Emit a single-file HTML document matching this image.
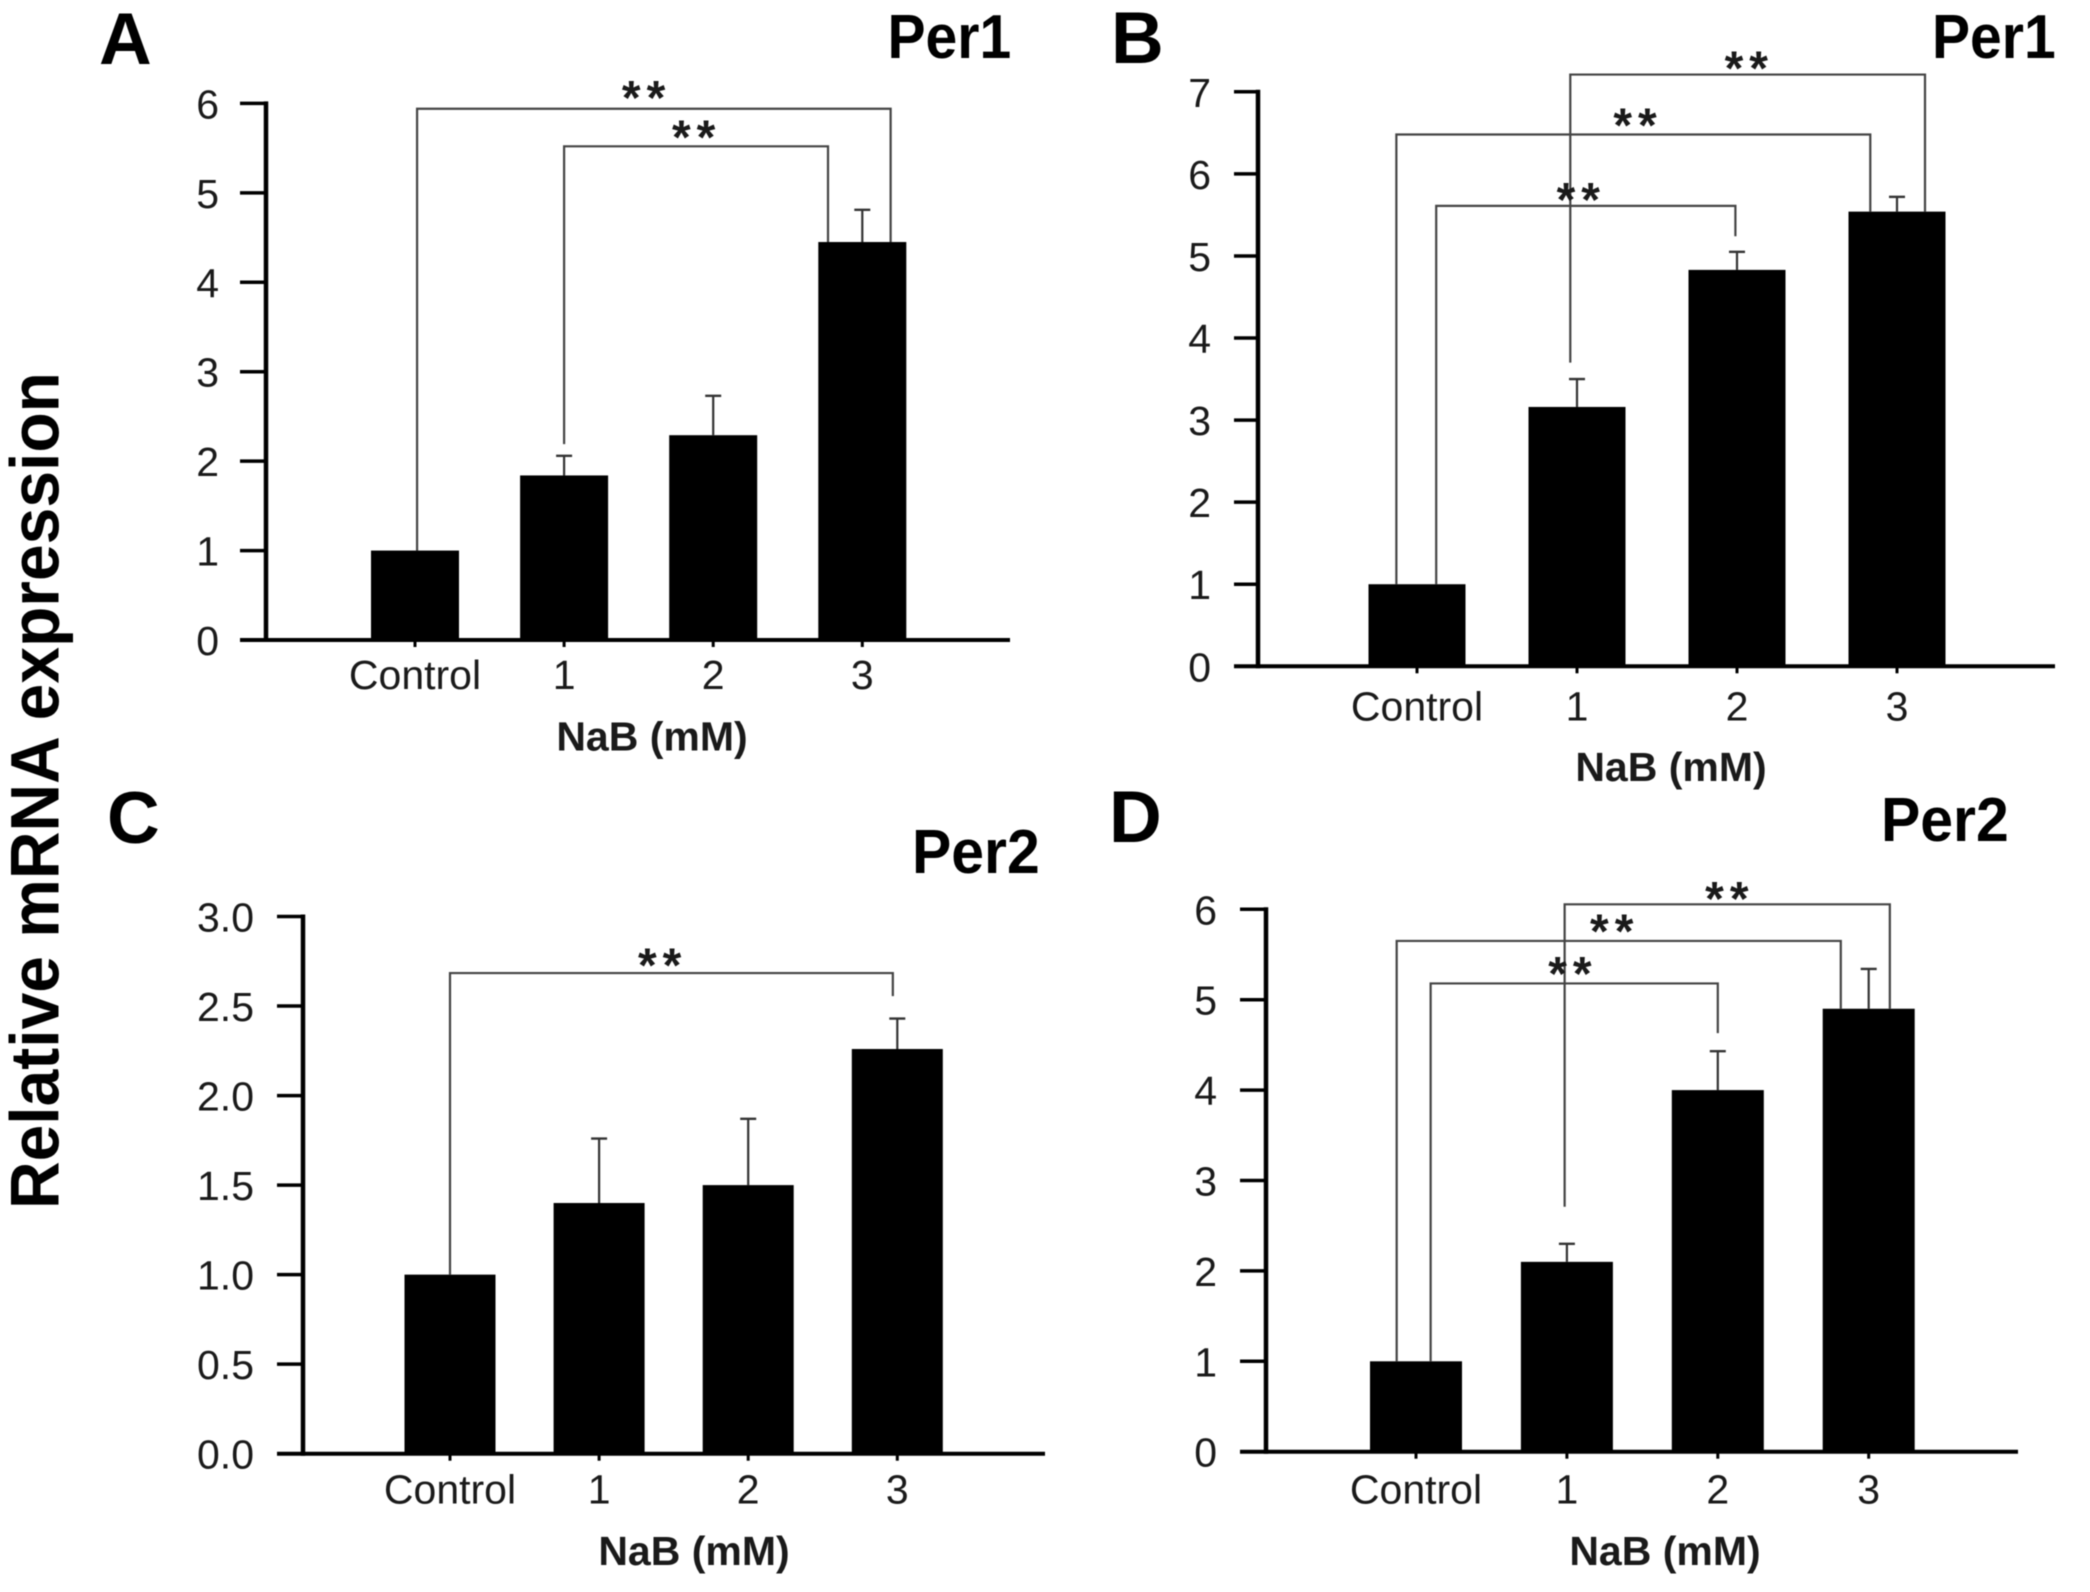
<!DOCTYPE html>
<html lang="en">
<head>
<meta charset="utf-8">
<title>Relative mRNA expression of Per1 and Per2 after NaB treatment</title>
<style>
html,body{margin:0;padding:0;background:#fff;overflow:hidden;}
svg{display:block;filter:blur(0.5px);}
text{font-family:"Liberation Sans",Arial,sans-serif;fill:#1a1a1a;}
</style>
</head>
<body>
<svg id="figure" width="2090" height="1592" viewBox="0 0 2090 1592" xmlns="http://www.w3.org/2000/svg">
<rect width="2090" height="1592" fill="#fff"></rect>
<text transform="translate(58.5,1209) rotate(-90) scale(0.956,1)" font-size="69" font-weight="700" style="fill:#000">Relative mRNA expression</text>
</svg>
<script>
// Shared
const categories = ['Control', '1', '2', '3'];

// Panel A
const aValues = [1.0, 1.84, 2.29, 4.45];
const aErrors = [0, 0.22, 0.44, 0.36];
const aTicks = ['0', '1', '2', '3', '4', '5', '6'];
const aBracketLeft = [0.014, 1.0];
const aBracketRight = [3.19, 2.77];
const aBracketTop = [5.94, 5.52];
const aBracketLeftEnd = [1.0, 2.19];
const aBracketRightEnd = [4.45, 4.45];
const aStarCat = [1.533, 1.869];
const aStarValue = [6.13, 5.686];

// Panel B
const bValues = [1.0, 3.16, 4.83, 5.54];
const bErrors = [0, 0.34, 0.22, 0.18];
const bTicks = ['0', '1', '2', '3', '4', '5', '6', '7'];
const bBracketLeft = [0.958, -0.129, 0.12];
const bBracketRight = [3.175, 2.833, 1.99];
const bBracketTop = [7.21, 6.48, 5.61];
const bBracketLeftEnd = [3.7, 1.0, 1.0];
const bBracketRightEnd = [5.54, 5.54, 5.24];
const bStarCat = [2.058, 1.3625, 1.008];
const bStarValue = [7.36, 6.66, 5.756];

// Panel C
const cValues = [1.0, 1.4, 1.5, 2.26];
const cErrors = [0, 0.36, 0.37, 0.17];
const cTicks = ['0.0', '0.5', '1.0', '1.5', '2.0', '2.5', '3.0'];
const cBracketLeft = [0];
const cBracketRight = [2.97];
const cBracketTop = [2.684];
const cBracketLeftEnd = [1.0];
const cBracketRightEnd = [2.555];
const cStarCat = [1.406];
const cStarValue = [2.76];

// Panel D
const dValues = [1.0, 2.1, 4.0, 4.9];
const dErrors = [0, 0.2, 0.43, 0.44];
const dTicks = ['0', '1', '2', '3', '4', '5', '6'];
const dBracketLeft = [0.985, -0.128, 0.097];
const dBracketRight = [3.14, 2.815, 2.0];
const dBracketTop = [6.055, 5.65, 5.18];
const dBracketLeftEnd = [2.71, 1.0, 1.0];
const dBracketRightEnd = [4.9, 4.9, 4.63];
const dStarCat = [2.06, 1.297, 1.02];
const dStarValue = [6.18, 5.82, 5.35];

const NS = 'http://www.w3.org/2000/svg';
const root = document.getElementById('figure');

function make(tag, parent, attrs) {
  const el = document.createElementNS(NS, tag);
  for (const k in attrs) el.setAttribute(k, attrs[k]);
  parent.appendChild(el);
  return el;
}

function drawPanel(p) {
  const group = make('g', root, {});
  
  

  const maxTick = p.tickMax;
  const y = v => p.y0 + (p.yTop - p.y0) * v / maxTick;
  const x = c => p.x0 + p.step * c;

  // Bars
  p.values.forEach((v, i) => {
    const bar = make('rect', group, {x: x(i) - p.barW / 2, y: y(v), width: p.barW, height: y(0) - y(v), fill: '#000'});
    
    
  });

  // Error bars
  p.errors.forEach((e, i) => {
    if (!e) return;
    const v = p.values[i];
    const top = y(v + e);
    const stem = make('line', group, {x1: x(i), x2: x(i), y1: y(v), y2: top, stroke: '#333', 'stroke-width': 2.2});
    
    
    const cap = make('line', group, {x1: x(i) - 8, x2: x(i) + 8, y1: top, y2: top, stroke: '#333', 'stroke-width': 2.4});
    
    
  });

  // Axes
  const yAxis = make('line', group, {x1: p.axisX, x2: p.axisX, y1: y(maxTick) - 2, y2: y(0) + 2, stroke: '#000', 'stroke-width': 4.5});
  
  
  const xAxis = make('line', group, {x1: p.tickLeft, x2: p.axisEnd, y1: y(0), y2: y(0), stroke: '#000', 'stroke-width': 4});
  
  

  // Y ticks
  p.ticks.forEach(t => {
    const ty = y(parseFloat(t));
    const tick = make('line', group, {x1: p.tickLeft, x2: p.axisX, y1: ty, y2: ty, stroke: '#000', 'stroke-width': 3.5});
    
    
    const lab = make('text', group, {x: p.labelRight, y: ty + 15, 'font-size': 41, 'text-anchor': 'end'});
    lab.textContent = t;
    
    
  });

  // X ticks and labels
  categories.forEach((c, i) => {
    const tick = make('line', group, {x1: x(i), x2: x(i), y1: y(0), y2: y(0) + 7, stroke: '#000', 'stroke-width': 3});
    
    
    const lab = make('text', group, {x: x(i), y: y(0) + p.catDrop, 'font-size': 41, 'text-anchor': 'middle'});
    lab.textContent = c;
    
    
  });

  // Significance brackets
  p.bracketLeft.forEach((b, i) => {
    const pts = [
      [x(b), y(p.bracketLeftEnd[i])],
      [x(b), y(p.bracketTop[i])],
      [x(p.bracketRight[i]), y(p.bracketTop[i])],
      [x(p.bracketRight[i]), y(p.bracketRightEnd[i])]
    ];
    const br = make('polyline', group, {points: pts.map(q => q.join(',')).join(' '), fill: 'none', stroke: '#444', 'stroke-width': 2.2});
    
    
  });
  p.starCat.forEach((s, i) => {
    const st = make('text', group, {x: x(s) + 3, y: y(p.starValue[i]) + 22, 'font-size': 48, 'font-weight': 700, 'text-anchor': 'middle', 'letter-spacing': 6});
    st.textContent = '**';
    
    
  });

  // Titles
  const letter = make('text', group, {x: p.letterX, y: p.letterY, 'font-size': 73, 'font-weight': 700, style: 'fill:#000'});
  letter.textContent = p.id.toUpperCase();
  
  
  const title = make('text', group, {transform: 'translate(' + p.titleX + ',' + p.titleY + ') scale(' + p.titleScale + ',1)', 'font-size': 62, 'font-weight': 700, style: 'fill:#000'});
  title.textContent = p.title;
  
  
  const xTitle = make('text', group, {x: p.xTitleX, y: p.xTitleY, 'font-size': 41, 'font-weight': 700, 'text-anchor': 'middle'});
  xTitle.textContent = 'NaB (mM)';
  
  
}

drawPanel({id: 'a', title: 'Per1', values: aValues, errors: aErrors, ticks: aTicks, tickMax: 6,
  bracketLeft: aBracketLeft, bracketRight: aBracketRight, bracketTop: aBracketTop, bracketLeftEnd: aBracketLeftEnd, bracketRightEnd: aBracketRightEnd,
  starCat: aStarCat, starValue: aStarValue,
  axisX: 266, axisEnd: 1010, tickLeft: 240, labelRight: 219, y0: 640, yTop: 103.4, x0: 415, step: 149.1, barW: 88, catDrop: 49,
  letterX: 99, letterY: 64, titleX: 887.5, titleY: 58, titleScale: 0.92, xTitleX: 652, xTitleY: 750.5});

drawPanel({id: 'b', title: 'Per1', values: bValues, errors: bErrors, ticks: bTicks, tickMax: 7,
  bracketLeft: bBracketLeft, bracketRight: bBracketRight, bracketTop: bBracketTop, bracketLeftEnd: bBracketLeftEnd, bracketRightEnd: bBracketRightEnd,
  starCat: bStarCat, starValue: bStarValue,
  axisX: 1258, axisEnd: 2055, tickLeft: 1234, labelRight: 1211, y0: 666.3, yTop: 91.8, x0: 1417, step: 160, barW: 97, catDrop: 54,
  letterX: 1111, letterY: 63, titleX: 1932, titleY: 58, titleScale: 0.92, xTitleX: 1671, xTitleY: 781});

drawPanel({id: 'c', title: 'Per2', values: cValues, errors: cErrors, ticks: cTicks, tickMax: 3,
  bracketLeft: cBracketLeft, bracketRight: cBracketRight, bracketTop: cBracketTop, bracketLeftEnd: cBracketLeftEnd, bracketRightEnd: cBracketRightEnd,
  starCat: cStarCat, starValue: cStarValue,
  axisX: 303, axisEnd: 1045, tickLeft: 277, labelRight: 254, y0: 1453.7, yTop: 916.5, x0: 450, step: 149.1, barW: 91, catDrop: 50,
  letterX: 107, letterY: 843, titleX: 912, titleY: 873, titleScale: 0.95, xTitleX: 694, xTitleY: 1565});

drawPanel({id: 'd', title: 'Per2', values: dValues, errors: dErrors, ticks: dTicks, tickMax: 6,
  bracketLeft: dBracketLeft, bracketRight: dBracketRight, bracketTop: dBracketTop, bracketLeftEnd: dBracketLeftEnd, bracketRightEnd: dBracketRightEnd,
  starCat: dStarCat, starValue: dStarValue,
  axisX: 1266, axisEnd: 2018, tickLeft: 1240, labelRight: 1217, y0: 1451.7, yTop: 909.3, x0: 1416, step: 150.9, barW: 92, catDrop: 52,
  letterX: 1109, letterY: 842, titleX: 1881, titleY: 841, titleScale: 0.95, xTitleX: 1665, xTitleY: 1565});
</script>
</body>
</html>
